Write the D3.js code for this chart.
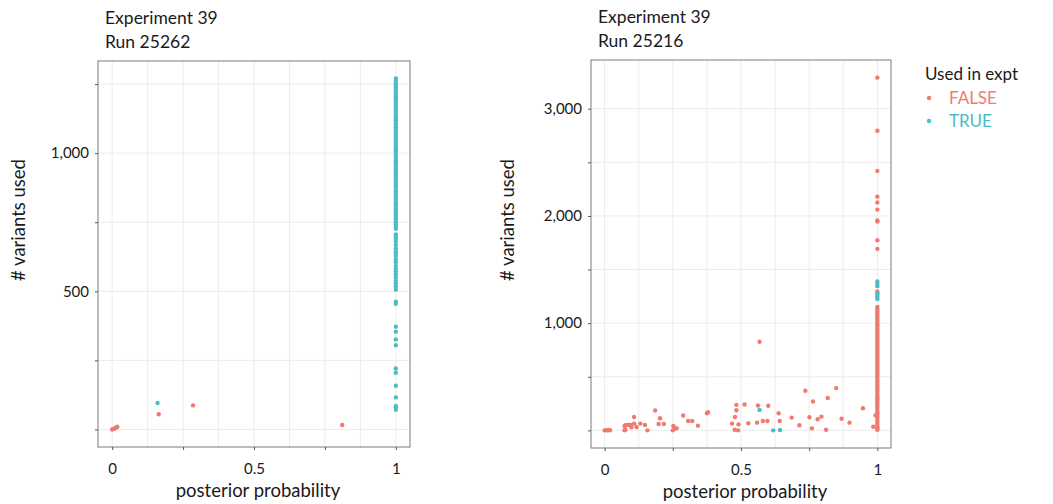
<!DOCTYPE html>
<html>
<head>
<meta charset="utf-8">
<script src="https://cdn.jsdelivr.net/npm/d3@7"></script>
<style>
  body { margin: 0; background: #fff; }
  text { font-family: Lato, "Open Sans", sans-serif; fill: #1a1a1a; }
</style>
</head>
<body>
<div class="chart"></div>
<script>
// left panel: Run 25262
var leftFalse = [
  [0, 0], [0.005, 2], [0.01, 4], [0.015, 8], [0.018, 10],
  [0.164, 55], [0.285, 87], [0.811, 16]
];
var leftTrue = [[0.16, 96]];
var leftTrueAtOne = [
  1270, 1262, 1254, 1246, 1238, 1230, 1222, 1214, 1206, 1198, 1190, 1182, 1174, 1166,
  1158, 1150, 1142, 1134, 1126, 1118, 1110, 1102, 1094, 1086, 1078, 1070, 1062, 1054,
  1046, 1038, 1030, 1022, 1014, 1006, 998, 990, 982, 974, 966, 958, 950, 942, 934, 926,
  918, 910, 902, 894, 886, 878, 870, 862, 854, 846, 838, 830, 822, 814, 806, 798, 790,
  782, 774, 766, 758, 750, 742, 734, 726, 706, 698, 690, 680, 668, 655, 645, 638, 628,
  615, 605, 592, 582, 572, 562, 550, 538, 528, 518, 506, 462, 455, 372, 354, 326, 305,
  221, 205, 158, 116, 85, 80, 71
];

// right panel: Run 25216
var rightFalse = [
  [0, 0], [0.005, 2], [0.01, 0], [0.015, 3], [0.02, 1],
  [0.073, 0], [0.076, 6], [0.073, 41], [0.079, 50], [0.087, 50], [0.096, 50],
  [0.098, 28], [0.108, 63], [0.117, 31], [0.108, 125], [0.131, 63], [0.148, 50],
  [0.157, 0], [0.185, 185], [0.203, 113], [0.198, 59], [0.217, 59], [0.252, 41],
  [0.25, 0], [0.258, 19], [0.264, 19], [0.288, 138], [0.306, 88], [0.321, 88],
  [0.342, 44], [0.375, 160], [0.379, 169], [0.467, 63], [0.478, 125], [0.483, 188],
  [0.483, 238], [0.477, 6], [0.489, 0], [0.491, 56], [0.513, 241], [0.527, 66],
  [0.559, 72], [0.562, 232], [0.568, 826], [0.58, 88], [0.597, 88], [0.6, 229],
  [0.638, 160], [0.642, 88], [0.686, 119], [0.714, 47], [0.736, 369], [0.751, 122],
  [0.76, 19], [0.764, 269], [0.781, 103], [0.795, 128], [0.812, 6], [0.818, 303],
  [0.849, 394], [0.869, 109], [0.898, 72], [0.947, 206], [0.985, 34], [0.993, 140]
];
var rightFalseAtOne = [
  3290, 2795, 2420, 2180, 2125, 2059, 1957, 1947, 1773, 1693, 1295,
  1150, 1130, 1110, 1090, 1070, 1050, 1030, 1010, 990, 970, 950, 930, 910, 890, 870,
  850, 830, 810, 790, 770, 750, 730, 710, 690, 670, 650, 630, 610, 590, 570, 550, 530,
  510, 490, 470, 450, 430, 410, 390, 370, 350, 330, 310, 290, 270, 250, 230, 210, 190,
  170, 150, 130, 110, 90, 70, 50, 30, 15, 5
];
var rightTrue = [[0.568, 191], [0.618, 0], [0.643, 3]];
var rightTrueAtOne = [1388, 1367, 1345, 1280, 1262, 1245, 1225];

var xTicks = [0, 0.25, 0.5, 0.75, 1];
var xLabels = ["0", "", "0.5", "", "1"];
var xGrid = [0, 0.125, 0.25, 0.375, 0.5, 0.625, 0.75, 0.875, 1];
var leftYTicks = [0, 250, 500, 750, 1000, 1250];
var leftYLabels = ["", "", "500", "", "1,000", ""];
var rightYTicks = [0, 500, 1000, 1500, 2000, 2500, 3000];
var rightYLabels = ["", "", "1,000", "", "2,000", "", "3,000"];

var legendTitle = "Used in expt";
var groups = ["FALSE", "TRUE"];
var colors = ["#ef7a6f", "#4bbdc6"];

var W = 1053, H = 504;

var svg = d3.select(".chart").append("svg")
  .attr("width", W)
  .attr("height", H);

function atOne(vals) {
  return vals.map((v) => [1, v]);
}

function expand(ext) {
  var pad = (ext[1] - ext[0]) * 0.05;
  return [ext[0] - pad, ext[1] + pad];
}

function panel(box, title, falsePts, truePts, yTicks, yLabels) {
  var g = svg.append("g").attr("transform", `translate(${box.left}, ${box.top})`);
  var w = box.right - box.left, h = box.bottom - box.top;
  var all = falsePts.concat(truePts);

  var x = d3.scaleLinear().domain(expand([0, 1])).range([0, w]);
  var y = d3.scaleLinear().domain(expand(d3.extent(all, (d) => d[1]))).range([h, 0]);

  // grid
  g.selectAll(".vgrid").data(xGrid).enter().append("line")
    .attr("x1", (d) => x(d)).attr("x2", (d) => x(d))
    .attr("y1", 0).attr("y2", h)
    .attr("stroke", "#ececec").attr("stroke-width", 1);
  g.selectAll(".hgrid").data(yTicks).enter().append("line")
    .attr("x1", 0).attr("x2", w)
    .attr("y1", (d) => y(d)).attr("y2", (d) => y(d))
    .attr("stroke", "#ececec").attr("stroke-width", 1);

  // points
  g.append("g").selectAll("circle").data(falsePts).enter().append("circle")
    .attr("cx", (d) => x(d[0])).attr("cy", (d) => y(d[1]))
    .attr("r", 2.2).attr("fill", colors[0]);
  g.append("g").selectAll("circle").data(truePts).enter().append("circle")
    .attr("cx", (d) => x(d[0])).attr("cy", (d) => y(d[1]))
    .attr("r", 2.2).attr("fill", colors[1]);

  // border
  g.append("rect").attr("width", w).attr("height", h)
    .attr("fill", "none").attr("stroke", "#7a7a7a").attr("stroke-width", 1);

  // axes
  var xAxis = g.append("g").attr("transform", `translate(0, ${h})`)
    .call(d3.axisBottom(x).tickValues(xTicks).tickSize(3).tickPadding(13)
      .tickFormat((d, i) => xLabels[i]));
  var yAxis = g.append("g")
    .call(d3.axisLeft(y).tickValues(yTicks).tickSize(3).tickPadding(6)
      .tickFormat((d, i) => yLabels[i]));
  [xAxis, yAxis].forEach((a) => {
    a.select(".domain").remove();
    a.selectAll(".tick line").attr("stroke", "#555");
    a.selectAll(".tick text").attr("font-family", "Lato, sans-serif")
      .attr("font-size", 15).attr("fill", "#1a1a1a");
  });

  // titles
  g.append("text").attr("x", 7).attr("y", -37).attr("font-size", 17.5).text(title[0]);
  g.append("text").attr("x", 7).attr("y", -13).attr("font-size", 17.5).text(title[1]);

  g.append("text").attr("x", w / 2 + 4).attr("y", h + 50)
    .attr("text-anchor", "middle").attr("font-size", 18.5)
    .text("posterior probability");
  g.append("text")
    .attr("transform", `translate(${box.labelX - box.left}, ${220 - box.top}) rotate(-90)`)
    .attr("text-anchor", "middle").attr("font-size", 18.5)
    .text("# variants used");
}

panel({ left: 98, right: 410, top: 61, bottom: 447, labelX: 25 }, ["Experiment 39", "Run 25262"],
  leftFalse, leftTrue.concat(atOne(leftTrueAtOne)), leftYTicks, leftYLabels);
panel({ left: 591, right: 891, top: 60, bottom: 448, labelX: 514 }, ["Experiment 39", "Run 25216"],
  rightFalse.concat(atOne(rightFalseAtOne)), rightTrue.concat(atOne(rightTrueAtOne)),
  rightYTicks, rightYLabels);

// legend
var leg = svg.append("g").attr("transform", "translate(925, 80)");
leg.append("text").attr("x", 0).attr("y", 0).attr("font-size", 17).text(legendTitle);
groups.forEach((name, i) => {
  leg.append("circle").attr("cx", 4).attr("cy", 18 + i * 23).attr("r", 2.2).attr("fill", colors[i]);
  leg.append("text").attr("x", 24).attr("y", 24 + i * 23).attr("font-size", 17)
    .attr("fill", colors[i]).style("fill", colors[i]).text(name);
});
</script>
</body>
</html>
